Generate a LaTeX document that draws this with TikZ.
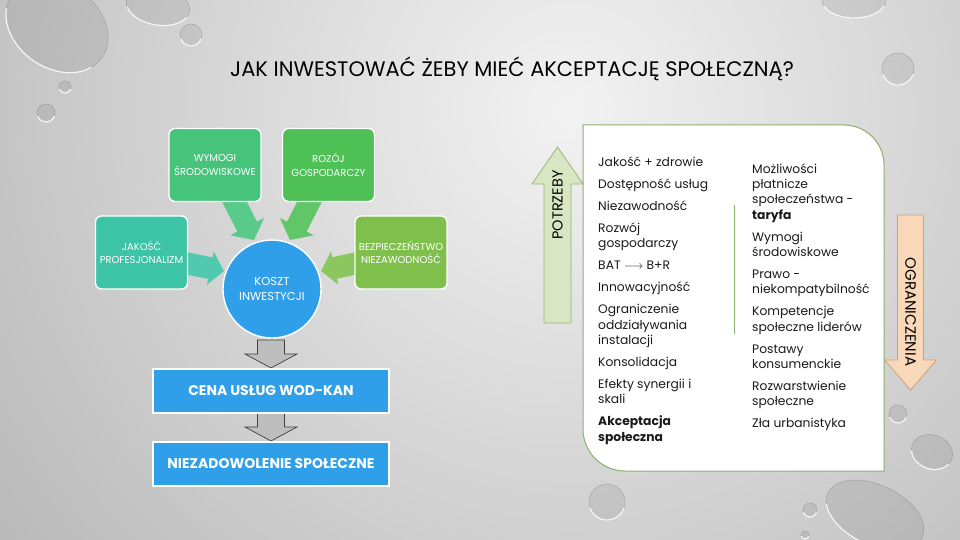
\documentclass[tikz,border=0pt]{standalone}
\usepackage{fontspec}
\setmainfont{Poppins}
\usetikzlibrary{calc}
\definecolor{bgA}{HTML}{F2F2F2}
\definecolor{bgB}{HTML}{D2D2D2}
\definecolor{bgC}{HTML}{A9A9A9}
\definecolor{bgD}{HTML}{828282}
\definecolor{cTeal}{HTML}{3DC3A6}
\definecolor{cGreenA}{HTML}{47C47C}
\definecolor{cGreenB}{HTML}{4EC056}
\definecolor{cGreenC}{HTML}{7FC04D}
\definecolor{cBlue}{HTML}{2E9FE8}
\definecolor{cGrayArr}{HTML}{BEBEBE}
\definecolor{cPanel}{HTML}{8DB06A}
\definecolor{cUpFill}{HTML}{D8E6C4}
\definecolor{cUpLine}{HTML}{98B57A}
\definecolor{cDnFill}{HTML}{F8D8B8}
\definecolor{cDnLine}{HTML}{C8A27E}
\definecolor{cText}{HTML}{1A1A1A}
\pgfdeclareradialshading{bgshade}{\pgfpoint{0bp}{0bp}}{color(0bp)=(bgA); color(14bp)=(bgB); color(32bp)=(bgC); color(50bp)=(bgD)}
\newcommand{\fatarrow}[6]{%
  \coordinate (#1h) at ($(#2)!#5!(#1)$);
  \filldraw[#6] ($(#1)!#3!90:(#2)$) -- ($(#1h)!#3!90:(#2)$) -- ($(#1h)!#4!90:(#2)$) -- (#2)
    -- ($(#1h)!#4!-90:(#2)$) -- ($(#1h)!#3!-90:(#2)$) -- ($(#1)!#3!-90:(#2)$) -- cycle;}
\newcommand{\waterdrop}[5]{%
  \begin{scope}[shift={(#1,#2)}, rotate=#5]
    \fill[black, opacity=0.07] (0,0) ellipse [x radius=#3, y radius=#4];
    \draw[black!70, opacity=0.25, line width=0.6pt] (0,0) ellipse [x radius=#3, y radius=#4];
    \draw[white, opacity=0.9, line width=1.2pt] (20:#3 and #4) arc [start angle=20, end angle=160, x radius=#3, y radius=#4];
  \end{scope}}
\tikzset{
  gbox/.style={draw=white, line width=1.4pt, rounded corners=6pt, minimum width=92pt, minimum height=73pt,
    text=white, align=center, inner sep=0pt, font=\fontsize{10}{13.5}\selectfont},
  bbox/.style={draw=white, line width=1.4pt, fill=cBlue, minimum width=236pt, minimum height=44pt,
    text=white, inner sep=0pt, font=\bfseries\fontsize{14}{16}\selectfont},
  ptxt/.style={anchor=base west, inner sep=0pt, text=cText, font=\fontsize{12.3}{15}\selectfont},
  grayarr/.style={fill=cGrayArr, draw=black!75, line width=0.7pt},
}
\begin{document}
\begin{tikzpicture}[x=1pt,y=-1pt]
\useasboundingbox (0,0) rectangle (960,540);
\begin{scope}
  \clip (0,0) rectangle (960,540);
  \fill[bgD] (0,0) rectangle (960,540);
  \shade[shading=bgshade] (570,110) circle [radius=720];
  % water drops
  \waterdrop{57}{26}{55}{42}{-35}
  \waterdrop{158}{6}{32}{19}{-10}
  \waterdrop{191}{35}{11}{11}{0}
  \waterdrop{65}{87}{6}{6}{0}
  \waterdrop{46}{113}{9}{9}{0}
  \waterdrop{854}{0}{32}{18}{0}
  \waterdrop{898}{69}{16}{16}{0}
  \waterdrop{898}{414}{9}{9}{0}
  \waterdrop{932}{452}{21}{17}{-20}
  \waterdrop{875}{515}{52}{30}{-25}
  \waterdrop{810}{510}{7}{7}{0}
  \waterdrop{805}{535}{4}{4}{0}
  \waterdrop{607}{502}{18}{18}{0}
\end{scope}

% title
\node[anchor=base, inner sep=0pt, text=black, font=\fontsize{21}{24}\selectfont] (title) at (512,77)
  {JAK INWESTOWAĆ ŻEBY MIEĆ AKCEPTACJĘ SPOŁECZNĄ?};

% green arrows into the circle
\coordinate (aWt) at (231,195); \coordinate (aWe) at (254,240);
\coordinate (aRt) at (313,195); \coordinate (aRe) at (290,240);
\coordinate (aJt) at (180,262); \coordinate (aJe) at (224,271);
\coordinate (aBt) at (362,262); \coordinate (aBe) at (321,271);
\fatarrow{aWt}{aWe}{11pt}{19pt}{15pt}{fill=cGreenA!90!white, draw=none}
\fatarrow{aRt}{aRe}{11pt}{19pt}{15pt}{fill=cGreenB!90!white, draw=none}
\fatarrow{aJt}{aJe}{11pt}{17pt}{14pt}{fill=cTeal!90!white, draw=none}
\fatarrow{aBt}{aBe}{11pt}{17pt}{14pt}{fill=cGreenC!90!white, draw=none}

% gray arrows down
\coordinate (g1t) at (271,340); \coordinate (g1e) at (271,368);
\coordinate (g2t) at (271,412); \coordinate (g2e) at (271,441);
\fatarrow{g1t}{g1e}{13.5pt}{26pt}{14pt}{grayarr}
\fatarrow{g2t}{g2e}{13.5pt}{26pt}{14pt}{grayarr}

% boxes
\node[gbox, fill=cTeal] (jak) at (141.5,252.5) {JAKOŚĆ\\PROFESJONALIZM};
\node[gbox, fill=cGreenA] (wym) at (215,165) {WYMOGI\\ŚRODOWISKOWE};
\node[gbox, fill=cGreenB] (roz) at (328.5,165) {ROZÓJ\\GOSPODARCZY};
\node[gbox, fill=cGreenC] (bez) at (401,252.5) {BEZPIECZEŃSTWO\\NIEZAWODNOŚĆ};
\node[circle, draw=white, line width=1.4pt, fill=cBlue, minimum size=98pt, inner sep=0pt,
  text=white, align=center, font=\fontsize{11.5}{15}\selectfont] (koszt) at (272,289) {KOSZT\\INWESTYCJI};
\node[bbox] (cena) at (271,391) {CENA USŁUG WOD-KAN};
\node[bbox] (niez) at (271,464) {NIEZADOWOLENIE SPOŁECZNE};

% side arrows
\coordinate (pUt) at (557.5,323); \coordinate (pUe) at (557.5,147);
\fatarrow{pUt}{pUe}{13.5pt}{25.5pt}{37pt}{fill=cUpFill, draw=cUpLine, line width=0.8pt}
\node[rotate=90, inner sep=0pt, text=black, font=\fontsize{14.5}{16}\selectfont] (potrz) at (557.5,205)
  {POTRZEBY};

% panel
\filldraw[fill=white, draw=cPanel, line width=1pt] (583,125) -- (844,125)
  arc[start angle=-90, end angle=0, radius=40] -- (884,471) -- (625,471)
  arc[start angle=90, end angle=180, radius=42] -- cycle;
\draw[cPanel, line width=1pt] (734,205) -- (734,334);

\coordinate (oDt) at (910.5,215); \coordinate (oDe) at (910.5,390);
\fatarrow{oDt}{oDe}{13pt}{26pt}{30pt}{fill=cDnFill, draw=cDnLine, line width=0.8pt}
\node[rotate=-90, inner sep=0pt, text=black, font=\fontsize{15}{16}\selectfont] (ogr) at (910.5,312)
  {OGRANICZENIA};

% left column
\foreach \yy/\txt [count=\i] in {
  166.5/{Jakość + zdrowie}, 188.5/{Dostępność usług}, 210.5/{Niezawodność},
  232.5/{Rozwój}, 247.8/{gospodarczy}, 269.8/{BAT $\longrightarrow$ B+R},
  291.8/{Innowacyjność}, 313.8/{Ograniczenie}, 329.1/{oddziaływania}, 344.4/{instalacji},
  366.4/{Konsolidacja}, 388.4/{Efekty synergii i}, 403.7/{skali},
  425.7/{\bfseries Akceptacja}, 441/{\bfseries społeczna}}
  \node[ptxt] (lc\i) at (598,\yy) {\txt};

% right column
\foreach \yy/\txt [count=\i] in {
  173.3/{Możliwości}, 188.6/{płatnicze}, 203.9/{społeczeństwa -}, 219.2/{\bfseries taryfa},
  241.2/{Wymogi}, 256.5/{środowiskowe}, 278.5/{Prawo -}, 293.8/{niekompatybilność},
  315.8/{Kompetencje}, 331.1/{społeczne liderów}, 353.1/{Postawy}, 368.4/{konsumenckie},
  390.4/{Rozwarstwienie}, 405.7/{społeczne}, 427.7/{Zła urbanistyka}}
  \node[ptxt] (rc\i) at (752,\yy) {\txt};
\end{tikzpicture}
\end{document}
